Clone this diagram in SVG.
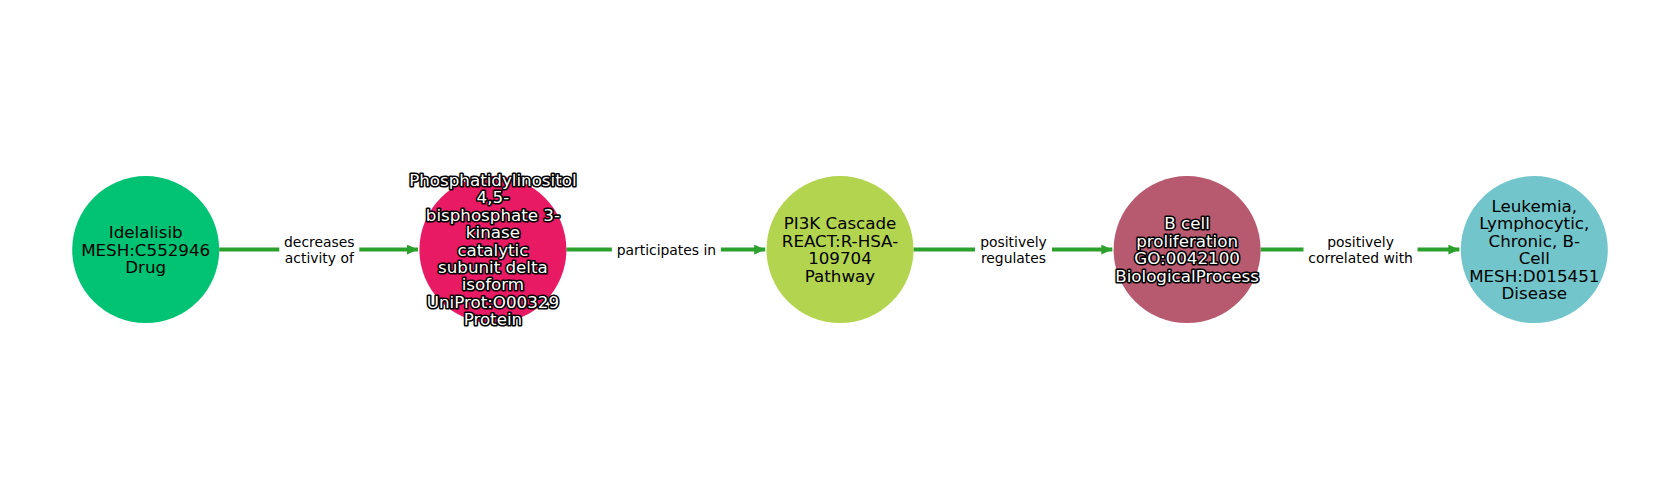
<svg xmlns="http://www.w3.org/2000/svg" width="1680" height="500" viewBox="0 0 1680 500">
<style>
.edge{stroke:#2ca02c;stroke-width:4;fill:none}
.nt{font-family:"DejaVu Sans",sans-serif;font-size:16.7px;text-anchor:middle;dominant-baseline:central;fill:#000}
.halo{fill:#fff;stroke:#000;stroke-width:3.2;paint-order:stroke;stroke-linejoin:round}
.et{font-family:"DejaVu Sans",sans-serif;font-size:13.9px;text-anchor:middle;dominant-baseline:central;fill:#000}
.lb{fill:#fff}
</style>
<defs>
<marker id="ah" markerWidth="11" markerHeight="10" refX="11" refY="5" orient="auto" markerUnits="userSpaceOnUse">
<path d="M0,0 L11,5 L0,10 Z" fill="#2ca02c"/>
</marker>
</defs>
<rect width="1680" height="500" fill="#fff"/>
<g id="connectors">
<g id="e1">
<line class="edge" x1="219.2" y1="249.6" x2="418" y2="249.6" marker-end="url(#ah)"/>
<rect class="lb" x="279.3" y="229" width="80" height="41"/>
<text class="et"><tspan x="319.3" y="241.6">decreases</tspan><tspan x="319.3" y="257.6">activity of</tspan></text>
</g>
<g id="e2">
<line class="edge" x1="566.4" y1="249.6" x2="765.2" y2="249.6" marker-end="url(#ah)"/>
<rect class="lb" x="611.9" y="238" width="109" height="24"/>
<text class="et" x="666.4" y="249.6">participates in</text>
</g>
<g id="e3">
<line class="edge" x1="913.5" y1="249.6" x2="1112.3" y2="249.6" marker-end="url(#ah)"/>
<rect class="lb" x="975" y="229" width="77" height="41"/>
<text class="et"><tspan x="1013.5" y="241.6">positively</tspan><tspan x="1013.5" y="257.6">regulates</tspan></text>
</g>
<g id="e4">
<line class="edge" x1="1260.6" y1="249.6" x2="1459.4" y2="249.6" marker-end="url(#ah)"/>
<rect class="lb" x="1303.5" y="229" width="114" height="41"/>
<text class="et"><tspan x="1360.6" y="241.6">positively</tspan><tspan x="1360.6" y="257.6">correlated with</tspan></text>
</g>
</g>
<g id="n1">
<circle cx="145.7" cy="249.6" r="73.5" fill="#02c373"/>
<text class="nt"><tspan x="145.7" y="232.1">Idelalisib</tspan><tspan x="145.7" y="249.6">MESH:C552946</tspan><tspan x="145.7" y="267.1">Drug</tspan></text>
</g>
<g id="n2">
<circle cx="492.9" cy="249.6" r="73.5" fill="#e81a64"/>
<text class="nt halo"><tspan x="492.9" y="180">Phosphatidylinositol</tspan><tspan x="492.9" y="197.4">4,5-</tspan><tspan x="492.9" y="214.8">bisphosphate 3-</tspan><tspan x="492.9" y="232.2">kinase</tspan><tspan x="492.9" y="249.6">catalytic</tspan><tspan x="492.9" y="267">subunit delta</tspan><tspan x="492.9" y="284.4">isoform</tspan><tspan x="492.9" y="301.8">UniProt:O00329</tspan><tspan x="492.9" y="319.2">Protein</tspan></text>
</g>
<g id="n3">
<circle cx="840" cy="249.6" r="73.5" fill="#b3d44f"/>
<text class="nt"><tspan x="840" y="223.4">PI3K Cascade</tspan><tspan x="840" y="240.9">REACT:R-HSA-</tspan><tspan x="840" y="258.4">109704</tspan><tspan x="840" y="275.9">Pathway</tspan></text>
</g>
<g id="n4">
<circle cx="1187.1" cy="249.6" r="73.5" fill="#b85a6f"/>
<text class="nt halo"><tspan x="1187.1" y="223.4">B cell</tspan><tspan x="1187.1" y="240.9">proliferation</tspan><tspan x="1187.1" y="258.4">GO:0042100</tspan><tspan x="1187.1" y="275.9">BiologicalProcess</tspan></text>
</g>
<g id="n5">
<circle cx="1534.3" cy="249.6" r="73.5" fill="#72c6cb"/>
<text class="nt"><tspan x="1534.3" y="205.9">Leukemia,</tspan><tspan x="1534.3" y="223.4">Lymphocytic,</tspan><tspan x="1534.3" y="240.9">Chronic, B-</tspan><tspan x="1534.3" y="258.4">Cell</tspan><tspan x="1534.3" y="275.9">MESH:D015451</tspan><tspan x="1534.3" y="293.4">Disease</tspan></text>
</g>
</svg>
